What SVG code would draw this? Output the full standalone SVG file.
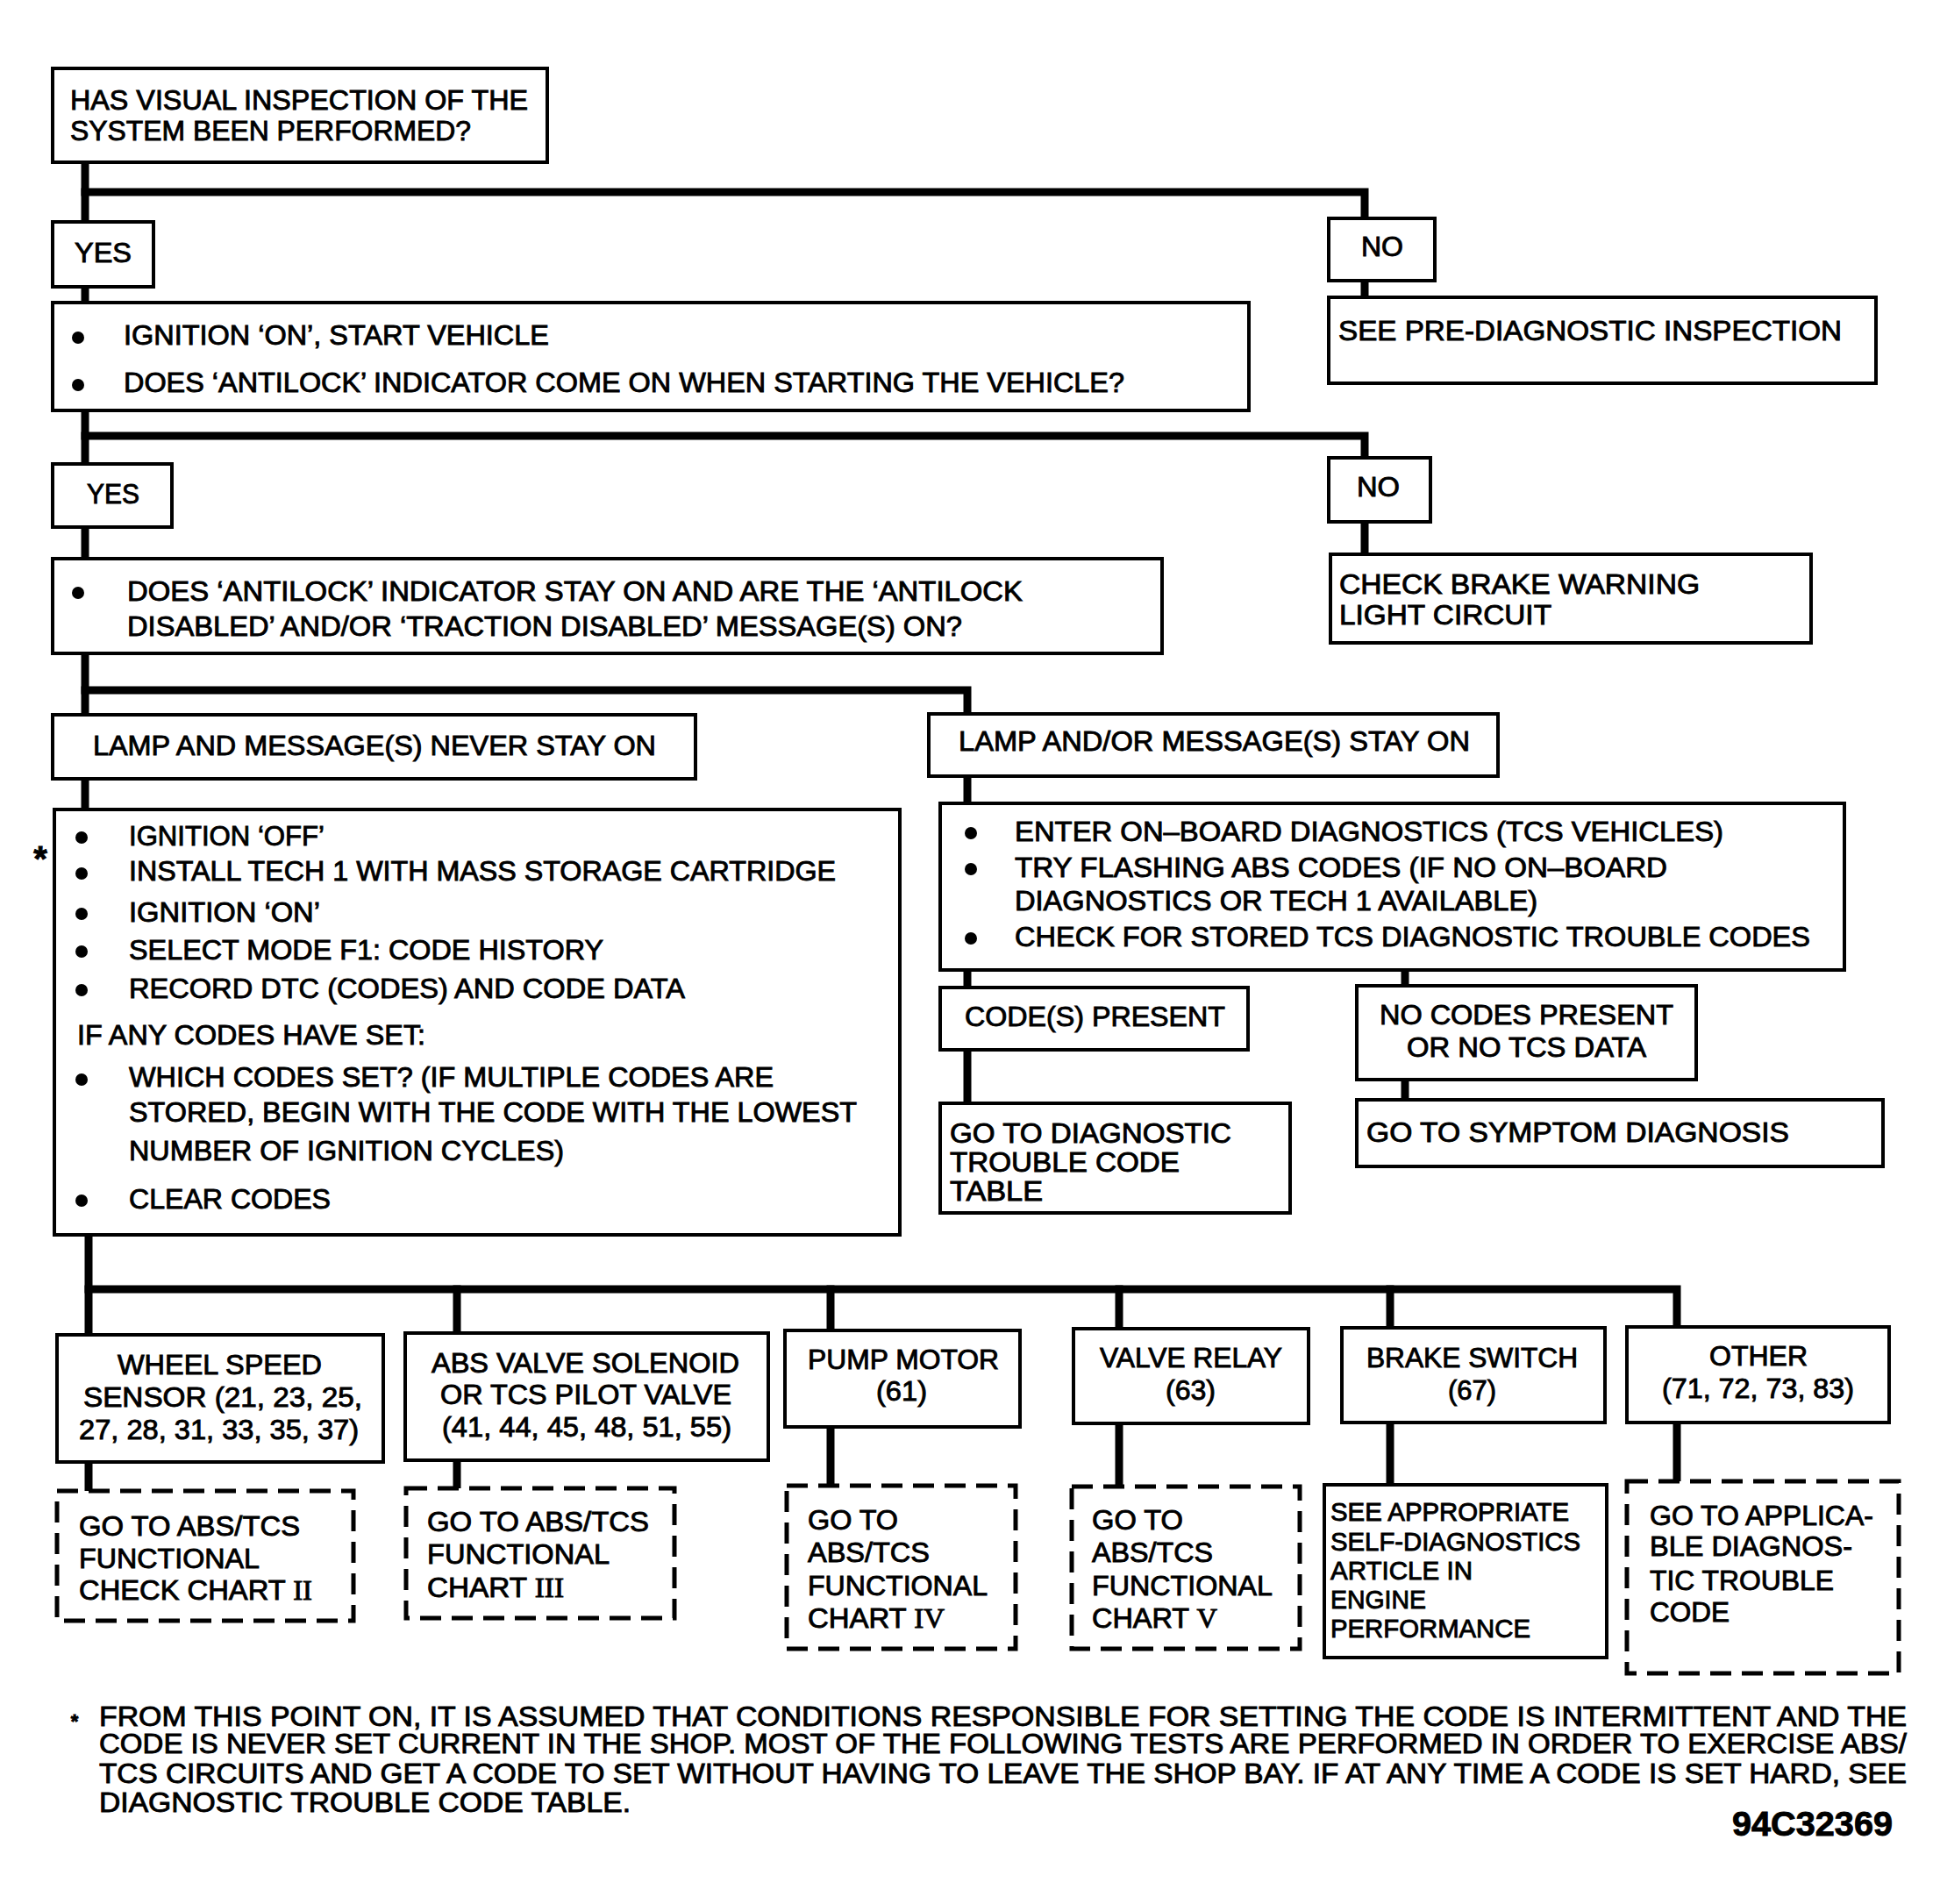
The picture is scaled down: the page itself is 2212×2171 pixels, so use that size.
<svg xmlns="http://www.w3.org/2000/svg" width="2212" height="2171" viewBox="0 0 2212 2171">
<style>
.bx{fill:#fff;stroke:#000;stroke-width:4}
.ds{fill:#fff;stroke:#000;stroke-width:5;stroke-dasharray:24 12}
.ln{fill:none;stroke:#000;stroke-width:9;stroke-linejoin:miter;stroke-linecap:square}
text{font-family:"Liberation Sans",Arial,Helvetica,sans-serif;font-size:31px;fill:#000;stroke:#000;stroke-width:0.9}
.sm{font-size:29px}
.fn{font-size:31px}
.rn{font-family:"Liberation Serif","Times New Roman",serif}
.bu{fill:#000}
</style>
<rect width="2212" height="2171" fill="#fff"/>
<g id="connectors">
<path class="ln" d="M97,185 V923"/>
<path class="ln" d="M97,219 H1556 V339"/>
<path class="ln" d="M97,497 H1556 V632"/>
<path class="ln" d="M97,787 H1103 V1258"/>
<path class="ln" d="M1602,1106 V1254"/>
<path class="ln" d="M101,1408 V1700"/>
<path class="ln" d="M101,1470 H1912 V1689"/>
<path class="ln" d="M521,1470 V1697"/>
<path class="ln" d="M947,1470 V1694"/>
<path class="ln" d="M1276,1470 V1695"/>
<path class="ln" d="M1585,1470 V1693"/>
</g>
<g id="n1"><rect class="bx" x="60" y="78" width="564" height="107"/>
<text x="80" y="125" textLength="522" lengthAdjust="spacingAndGlyphs">HAS VISUAL INSPECTION OF THE</text>
<text x="80" y="160" textLength="457" lengthAdjust="spacingAndGlyphs">SYSTEM BEEN PERFORMED?</text></g>
<g id="yes1"><rect class="bx" x="60" y="253" width="115" height="74"/>
<text x="85" y="299" textLength="65" lengthAdjust="spacingAndGlyphs">YES</text></g>
<g id="no1"><rect class="bx" x="1515" y="249" width="121" height="71"/>
<text x="1552" y="292" textLength="48" lengthAdjust="spacingAndGlyphs">NO</text></g>
<g id="predx"><rect class="bx" x="1515" y="339" width="624" height="98"/>
<text x="1526" y="388" textLength="574" lengthAdjust="spacingAndGlyphs">SEE PRE-DIAGNOSTIC INSPECTION</text></g>
<g id="n2"><rect class="bx" x="60" y="345" width="1364" height="123"/>
<ellipse class="bu" cx="89" cy="385" rx="7" ry="7"/>
<ellipse class="bu" cx="89" cy="439" rx="7" ry="7"/>
<text x="141" y="393" textLength="485" lengthAdjust="spacingAndGlyphs">IGNITION ‘ON’, START VEHICLE</text>
<text x="141" y="447" textLength="1141" lengthAdjust="spacingAndGlyphs">DOES ‘ANTILOCK’ INDICATOR COME ON WHEN STARTING THE VEHICLE?</text></g>
<g id="yes2"><rect class="bx" x="60" y="529" width="136" height="72"/>
<text x="99" y="574" textLength="60" lengthAdjust="spacingAndGlyphs">YES</text></g>
<g id="no2"><rect class="bx" x="1515" y="522" width="116" height="73"/>
<text x="1547" y="566" textLength="49" lengthAdjust="spacingAndGlyphs">NO</text></g>
<g id="brakewarn"><rect class="bx" x="1517" y="632" width="548" height="101"/>
<text x="1527" y="677" textLength="411" lengthAdjust="spacingAndGlyphs">CHECK BRAKE WARNING</text>
<text x="1527" y="712" textLength="242" lengthAdjust="spacingAndGlyphs">LIGHT CIRCUIT</text></g>
<g id="n3"><rect class="bx" x="60" y="637" width="1265" height="108"/>
<ellipse class="bu" cx="89" cy="676" rx="7" ry="7"/>
<text x="145" y="685" textLength="1021" lengthAdjust="spacingAndGlyphs">DOES ‘ANTILOCK’ INDICATOR STAY ON AND ARE THE  ‘ANTILOCK</text>
<text x="145" y="725" textLength="952" lengthAdjust="spacingAndGlyphs">DISABLED’ AND/OR ‘TRACTION DISABLED’ MESSAGE(S) ON?</text></g>
<g id="never"><rect class="bx" x="60" y="815" width="733" height="73"/>
<text x="106" y="861" textLength="642" lengthAdjust="spacingAndGlyphs">LAMP AND MESSAGE(S) NEVER STAY ON</text></g>
<g id="stayon"><rect class="bx" x="1059" y="814" width="649" height="71"/>
<text x="1093" y="856" textLength="583" lengthAdjust="spacingAndGlyphs">LAMP AND/OR MESSAGE(S) STAY ON</text></g>
<g id="n4"><rect class="bx" x="62" y="923" width="964" height="485"/>
<text x="46" y="993" text-anchor="middle" style="font-size:40px;font-weight:bold">*</text>
<ellipse class="bu" cx="93" cy="955" rx="7" ry="7"/>
<ellipse class="bu" cx="93" cy="996" rx="7" ry="7"/>
<ellipse class="bu" cx="93" cy="1042" rx="7" ry="7"/>
<ellipse class="bu" cx="93" cy="1085" rx="7" ry="7"/>
<ellipse class="bu" cx="93" cy="1129" rx="7" ry="7"/>
<ellipse class="bu" cx="93" cy="1231" rx="7" ry="7"/>
<ellipse class="bu" cx="93" cy="1369" rx="7" ry="7"/>
<text x="147" y="964" textLength="223" lengthAdjust="spacingAndGlyphs">IGNITION ‘OFF’</text>
<text x="147" y="1004" textLength="806" lengthAdjust="spacingAndGlyphs">INSTALL TECH 1 WITH MASS STORAGE CARTRIDGE</text>
<text x="147" y="1051" textLength="218" lengthAdjust="spacingAndGlyphs">IGNITION ‘ON’</text>
<text x="147" y="1094" textLength="541" lengthAdjust="spacingAndGlyphs">SELECT MODE F1: CODE HISTORY</text>
<text x="147" y="1138" textLength="634" lengthAdjust="spacingAndGlyphs">RECORD DTC (CODES) AND CODE DATA</text>
<text x="88" y="1191" textLength="397" lengthAdjust="spacingAndGlyphs">IF ANY CODES HAVE SET:</text>
<text x="147" y="1239" textLength="735" lengthAdjust="spacingAndGlyphs">WHICH CODES SET? (IF MULTIPLE CODES ARE</text>
<text x="147" y="1279" textLength="830" lengthAdjust="spacingAndGlyphs">STORED, BEGIN WITH THE CODE WITH THE LOWEST</text>
<text x="147" y="1323" textLength="496" lengthAdjust="spacingAndGlyphs">NUMBER OF IGNITION CYCLES)</text>
<text x="147" y="1378" textLength="230" lengthAdjust="spacingAndGlyphs">CLEAR CODES</text></g>
<g id="n5"><rect class="bx" x="1072" y="916" width="1031" height="190"/>
<ellipse class="bu" cx="1107" cy="950" rx="7" ry="7"/>
<ellipse class="bu" cx="1107" cy="991" rx="7" ry="7"/>
<ellipse class="bu" cx="1107" cy="1070" rx="7" ry="7"/>
<text x="1157" y="959" textLength="808" lengthAdjust="spacingAndGlyphs">ENTER ON–BOARD DIAGNOSTICS (TCS VEHICLES)</text>
<text x="1157" y="1000" textLength="744" lengthAdjust="spacingAndGlyphs">TRY FLASHING ABS CODES (IF NO ON–BOARD</text>
<text x="1157" y="1038" textLength="596" lengthAdjust="spacingAndGlyphs">DIAGNOSTICS OR TECH 1 AVAILABLE)</text>
<text x="1157" y="1079" textLength="907" lengthAdjust="spacingAndGlyphs">CHECK FOR STORED TCS DIAGNOSTIC TROUBLE CODES</text></g>
<g id="codes"><rect class="bx" x="1072" y="1126" width="351" height="71"/>
<text x="1100" y="1170" textLength="297" lengthAdjust="spacingAndGlyphs">CODE(S) PRESENT</text></g>
<g id="nocodes"><rect class="bx" x="1547" y="1124" width="387" height="107"/>
<text x="1573" y="1168" textLength="335" lengthAdjust="spacingAndGlyphs">NO CODES PRESENT</text>
<text x="1604" y="1205" textLength="273" lengthAdjust="spacingAndGlyphs">OR NO TCS DATA</text></g>
<g id="dtctable"><rect class="bx" x="1072" y="1258" width="399" height="125"/>
<text x="1083" y="1303" textLength="321" lengthAdjust="spacingAndGlyphs">GO TO DIAGNOSTIC</text>
<text x="1083" y="1336" textLength="262" lengthAdjust="spacingAndGlyphs">TROUBLE CODE</text>
<text x="1083" y="1369" textLength="106" lengthAdjust="spacingAndGlyphs">TABLE</text></g>
<g id="symptom"><rect class="bx" x="1547" y="1254" width="600" height="76"/>
<text x="1558" y="1302" textLength="482" lengthAdjust="spacingAndGlyphs">GO TO SYMPTOM DIAGNOSIS</text></g>
<g id="wheel"><rect class="bx" x="65" y="1522" width="372" height="145"/>
<text x="134" y="1567" textLength="233" lengthAdjust="spacingAndGlyphs">WHEEL SPEED</text>
<text x="95" y="1604" textLength="318" lengthAdjust="spacingAndGlyphs">SENSOR (21, 23, 25,</text>
<text x="90" y="1641" textLength="319" lengthAdjust="spacingAndGlyphs">27, 28, 31, 33, 35, 37)</text></g>
<g id="absvalve"><rect class="bx" x="462" y="1520" width="414" height="145"/>
<text x="492" y="1565" textLength="351" lengthAdjust="spacingAndGlyphs">ABS VALVE SOLENOID</text>
<text x="502" y="1601" textLength="332" lengthAdjust="spacingAndGlyphs">OR TCS PILOT VALVE</text>
<text x="504" y="1638" textLength="330" lengthAdjust="spacingAndGlyphs">(41, 44, 45, 48, 51, 55)</text></g>
<g id="pump"><rect class="bx" x="895" y="1517" width="268" height="110"/>
<text x="921" y="1561" textLength="218" lengthAdjust="spacingAndGlyphs">PUMP MOTOR</text>
<text x="999" y="1597" textLength="58" lengthAdjust="spacingAndGlyphs">(61)</text></g>
<g id="relay"><rect class="bx" x="1224" y="1515" width="268" height="108"/>
<text x="1254" y="1559" textLength="208" lengthAdjust="spacingAndGlyphs">VALVE RELAY</text>
<text x="1329" y="1596" textLength="57" lengthAdjust="spacingAndGlyphs">(63)</text></g>
<g id="brakesw"><rect class="bx" x="1530" y="1514" width="300" height="108"/>
<text x="1558" y="1559" textLength="241" lengthAdjust="spacingAndGlyphs">BRAKE SWITCH</text>
<text x="1651" y="1596" textLength="55" lengthAdjust="spacingAndGlyphs">(67)</text></g>
<g id="other"><rect class="bx" x="1855" y="1513" width="299" height="109"/>
<text x="1949" y="1557" textLength="112" lengthAdjust="spacingAndGlyphs">OTHER</text>
<text x="1895" y="1594" textLength="219" lengthAdjust="spacingAndGlyphs">(71, 72, 73, 83)</text></g>
<g id="chart2"><rect class="ds" x="65" y="1700" width="338" height="148"/>
<text x="90" y="1751" textLength="252" lengthAdjust="spacingAndGlyphs">GO TO ABS/TCS</text>
<text x="90" y="1788" textLength="206" lengthAdjust="spacingAndGlyphs">FUNCTIONAL</text>
<text x="90" y="1824" textLength="266" lengthAdjust="spacingAndGlyphs">CHECK CHART <tspan class="rn">II</tspan></text></g>
<g id="chart3"><rect class="ds" x="463" y="1697" width="306" height="148"/>
<text x="487" y="1746" textLength="253" lengthAdjust="spacingAndGlyphs">GO TO ABS/TCS</text>
<text x="487" y="1783" textLength="208" lengthAdjust="spacingAndGlyphs">FUNCTIONAL</text>
<text x="487" y="1821" textLength="156" lengthAdjust="spacingAndGlyphs">CHART <tspan class="rn">III</tspan></text></g>
<g id="chart4"><rect class="ds" x="897" y="1694" width="261" height="186"/>
<text x="921" y="1744" textLength="103" lengthAdjust="spacingAndGlyphs">GO TO</text>
<text x="921" y="1781" textLength="139" lengthAdjust="spacingAndGlyphs">ABS/TCS</text>
<text x="921" y="1819" textLength="205" lengthAdjust="spacingAndGlyphs">FUNCTIONAL</text>
<text x="921" y="1856" textLength="156" lengthAdjust="spacingAndGlyphs">CHART <tspan class="rn">IV</tspan></text></g>
<g id="chart5"><rect class="ds" x="1222" y="1695" width="260" height="185"/>
<text x="1245" y="1744" textLength="104" lengthAdjust="spacingAndGlyphs">GO TO</text>
<text x="1245" y="1781" textLength="138" lengthAdjust="spacingAndGlyphs">ABS/TCS</text>
<text x="1245" y="1819" textLength="206" lengthAdjust="spacingAndGlyphs">FUNCTIONAL</text>
<text x="1245" y="1856" textLength="143" lengthAdjust="spacingAndGlyphs">CHART <tspan class="rn">V</tspan></text></g>
<g id="selfdiag"><rect class="bx" x="1510" y="1693" width="322" height="197"/>
<text class="sm" x="1517" y="1734" textLength="272" lengthAdjust="spacingAndGlyphs">SEE APPROPRIATE</text>
<text class="sm" x="1517" y="1768" textLength="285" lengthAdjust="spacingAndGlyphs">SELF-DIAGNOSTICS</text>
<text class="sm" x="1517" y="1801" textLength="162" lengthAdjust="spacingAndGlyphs">ARTICLE IN</text>
<text class="sm" x="1517" y="1834" textLength="109" lengthAdjust="spacingAndGlyphs">ENGINE</text>
<text class="sm" x="1517" y="1867" textLength="228" lengthAdjust="spacingAndGlyphs">PERFORMANCE</text></g>
<g id="applicable"><rect class="ds" x="1855" y="1689" width="310" height="219"/>
<text x="1881" y="1739" textLength="255" lengthAdjust="spacingAndGlyphs">GO TO APPLICA-</text>
<text x="1881" y="1774" textLength="231" lengthAdjust="spacingAndGlyphs">BLE DIAGNOS-</text>
<text x="1881" y="1813" textLength="210" lengthAdjust="spacingAndGlyphs">TIC TROUBLE</text>
<text x="1881" y="1849" textLength="91" lengthAdjust="spacingAndGlyphs">CODE</text></g>
<g id="footnote">
<text x="85" y="1970" text-anchor="middle" style="font-size:22px;font-weight:bold">*</text>
<text class="fn" x="113" y="1968" textLength="2061" lengthAdjust="spacingAndGlyphs">FROM THIS POINT ON, IT IS ASSUMED THAT CONDITIONS RESPONSIBLE FOR SETTING THE CODE IS INTERMITTENT AND THE</text>
<text class="fn" x="113" y="1999" textLength="2061" lengthAdjust="spacingAndGlyphs">CODE IS NEVER SET CURRENT IN THE SHOP. MOST OF THE FOLLOWING TESTS ARE PERFORMED IN ORDER TO EXERCISE ABS/</text>
<text class="fn" x="113" y="2033" textLength="2061" lengthAdjust="spacingAndGlyphs">TCS CIRCUITS AND GET A CODE TO SET WITHOUT HAVING TO LEAVE THE SHOP BAY. IF AT ANY TIME A CODE IS SET HARD, SEE</text>
<text class="fn" x="113" y="2066" textLength="606" lengthAdjust="spacingAndGlyphs">DIAGNOSTIC TROUBLE CODE TABLE.</text>
<text x="1975" y="2093" textLength="183" lengthAdjust="spacingAndGlyphs" style="font-size:38px;font-weight:bold">94C32369</text>
</g>
</svg>
